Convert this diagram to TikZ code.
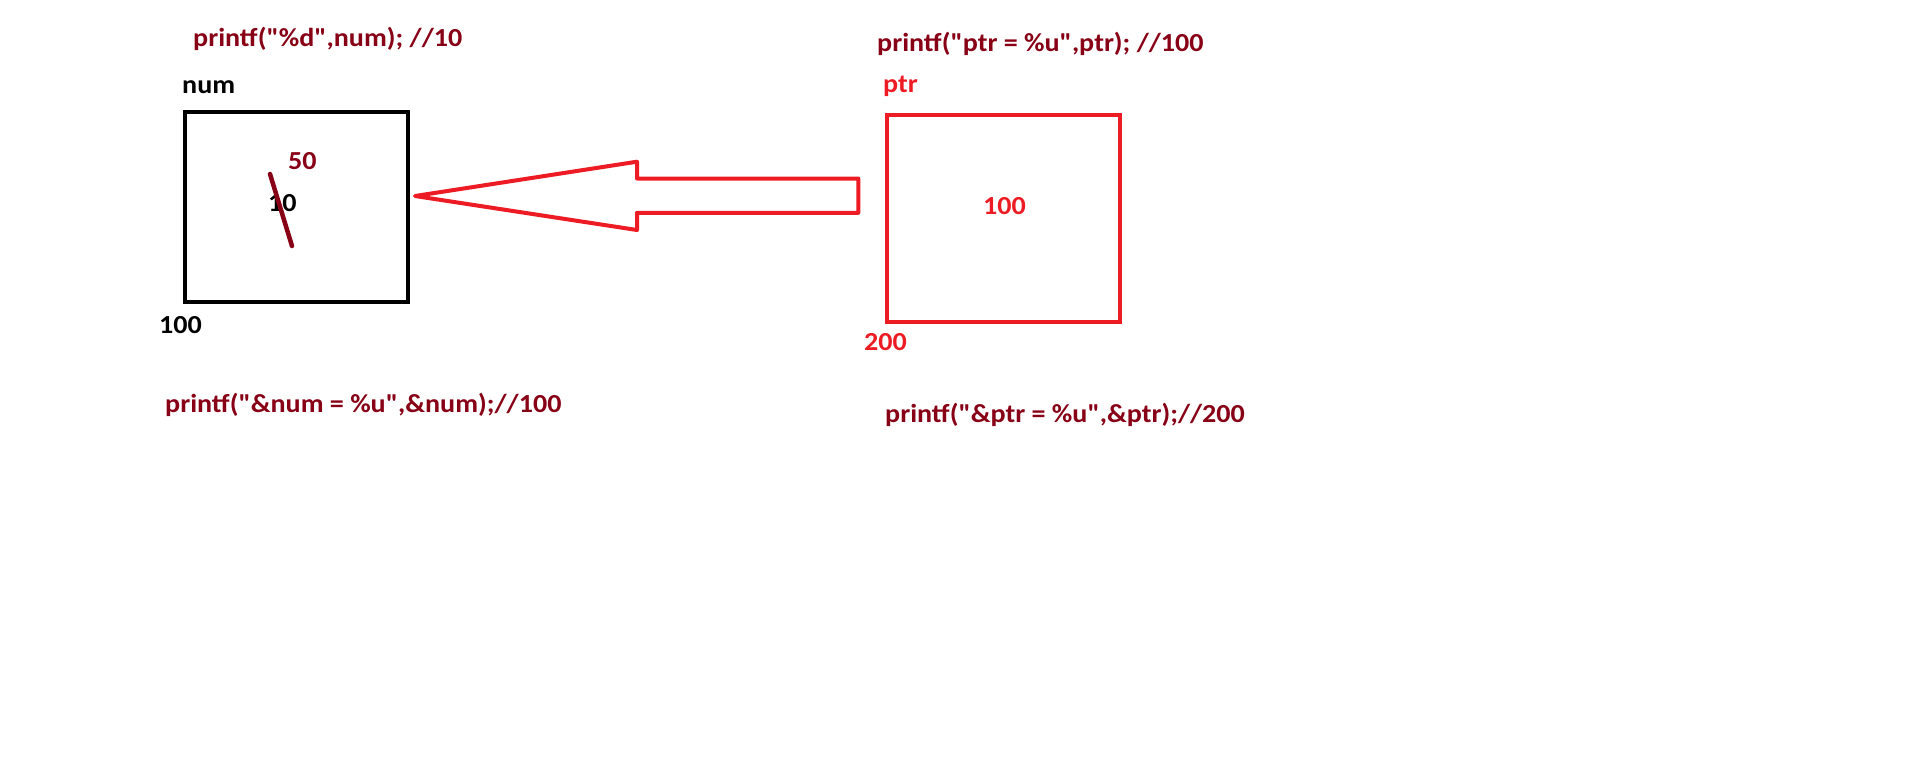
\documentclass[tikz,border=0pt]{standalone}
\usepackage{fontspec}
\setmainfont{Carlito}[Ligatures=TeXOff, FakeStretch=1.08]
\definecolor{dred}{RGB}{136,0,21}
\definecolor{pred}{RGB}{237,28,36}
\tikzset{
  lbl/.style={inner sep=0pt, anchor=base west, font=\fontsize{26}{30}\selectfont\bfseries},
  membox/.style={draw, line width=4pt, inner sep=0pt, anchor=north west},
}
\begin{document}
\begin{tikzpicture}[x=1pt,y=-1pt]
\fill[white] (0,0) rectangle (1910,772);
\useasboundingbox (0,0) rectangle (1910,772);
% boxes
\node[membox, black, minimum width=223.6pt, minimum height=189.8pt] (numbox) at (182.7,109.7) {};
\node[membox, pred, minimum width=233.8pt, minimum height=207.3pt] (ptrbox) at (884.5,112.5) {};
% labels
\node[lbl, dred] (pnum) at (193,46) {printf("\%d",num); //10};
\node[lbl, black] (numname) at (182,93) {num};
\node[lbl, dred] (fifty) at (288,169) {50};
\node[lbl, black] (ten) at (268,211) {10};
\node[lbl, black] (numaddr) at (159,333) {100};
\node[lbl, dred] (pptr) at (877,51) {printf("ptr = \%u",ptr); //100};
\node[lbl, pred] (ptrname) at (883,92) {ptr};
\node[lbl, pred] (ptrval) at (983,214) {100};
\node[lbl, pred] (ptraddr) at (864,350) {200};
\node[lbl, dred] (paddrnum) at (165,412) {printf("\&num = \%u",\&num);//100};
\node[lbl, dred] (paddrptr) at (885,422) {printf("\&ptr = \%u",\&ptr);//200};
% strike-through
\coordinate (s1) at (270,174);
\coordinate (s2) at (292,246);
\draw[dred, line width=4.5pt, line cap=round] (s1) -- (s2);
% block arrow
\coordinate (tip) at (415,196);
\draw[pred, line width=4pt, line join=round]
  (tip) -- (637,161.7) -- (637,178.5) -- (858.3,178.5) -- (858.3,212.8)
  -- (637,212.8) -- (637,230) -- cycle;
\end{tikzpicture}
\end{document}
